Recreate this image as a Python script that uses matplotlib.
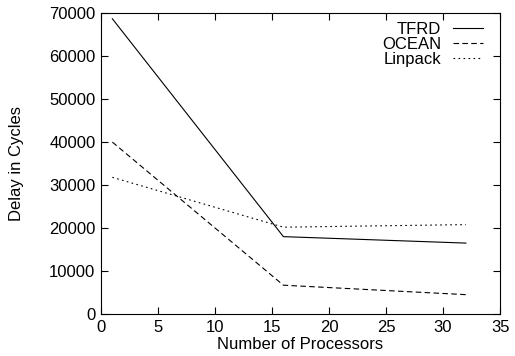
import matplotlib
matplotlib.use("Agg")
import matplotlib.pyplot as plt

plt.rcParams['font.family'] = ['Liberation Sans', 'DejaVu Sans']

procs = [1, 16, 32]
tfrd = [68700, 18000, 16500]
ocean = [40000, 6700, 4500]
linpack = [31800, 20200, 20800]

fig = plt.figure(figsize=(5.15, 3.56), dpi=100)
ax = fig.add_axes([0.196, 0.118, 0.775, 0.845])

ax.plot(procs, tfrd, color="black", lw=0.8, linestyle="-", label="TFRD")
ax.plot(procs, ocean, color="black", lw=0.8, linestyle=(0, (5, 3)), label="OCEAN")
ax.plot(procs, linpack, color="black", lw=0.8, linestyle=(0, (1.5, 3)), label="Linpack")

ax.set_xlim(0, 35)
ax.set_ylim(0, 70000)
ax.set_xticks(range(0, 36, 5))
ax.set_yticks(range(0, 70001, 10000))
ax.tick_params(direction="in", top=True, right=True, labelsize=12, length=5, width=0.8, pad=4)
for s in ax.spines.values():
    s.set_linewidth(0.8)

ax.set_xlabel("Number of Processors", fontsize=12, labelpad=2)
ax.set_ylabel("Delay in Cycles", fontsize=12, labelpad=18)

ax.legend(loc="upper right", bbox_to_anchor=(1, 1.027), frameon=False, markerfirst=False,
          fontsize=12, handlelength=1.85, labelspacing=0.0, borderaxespad=0.6,
          handletextpad=0.7)

fig.savefig("out.png", dpi=100)
